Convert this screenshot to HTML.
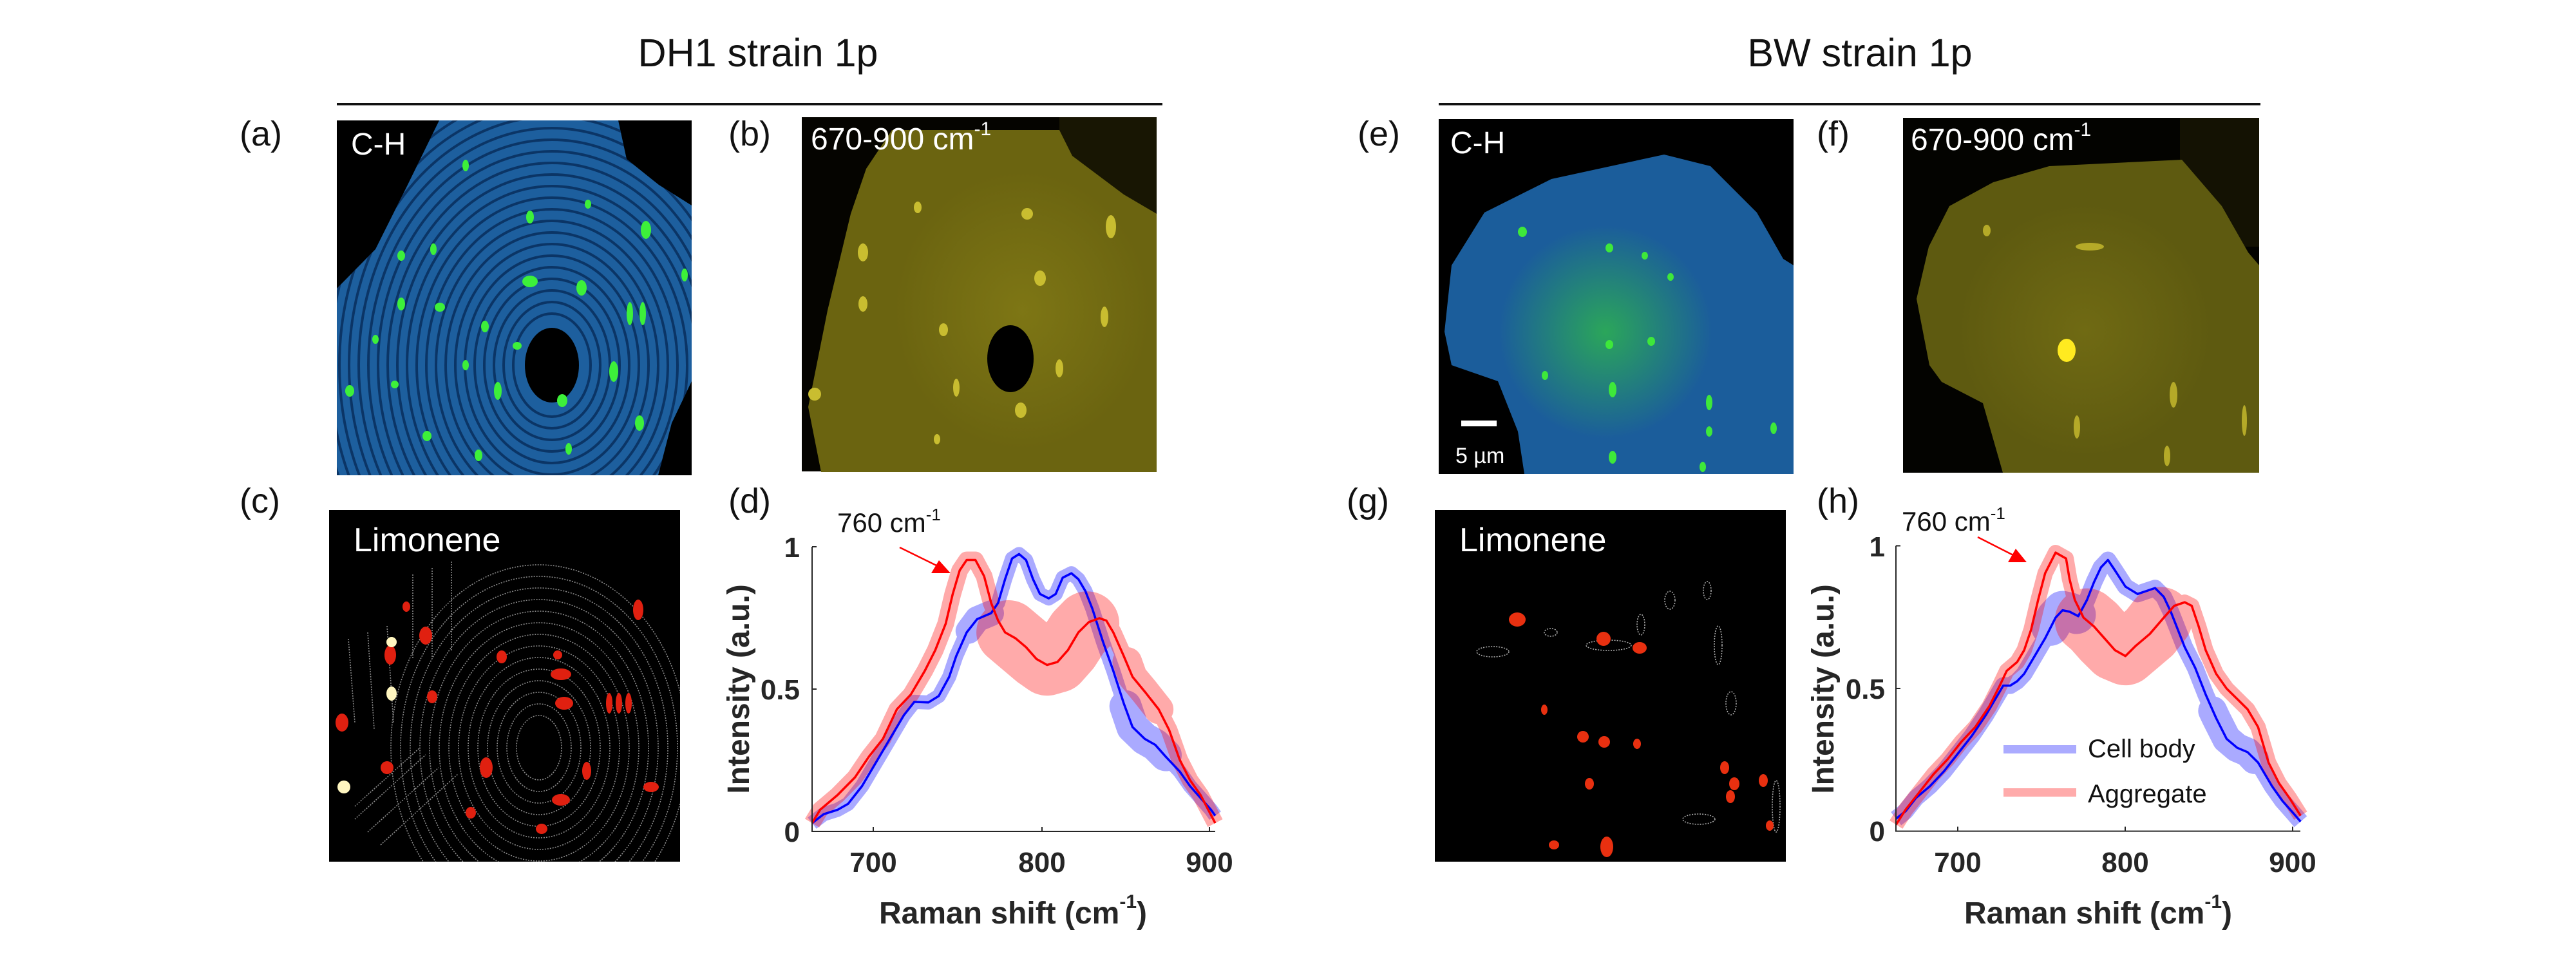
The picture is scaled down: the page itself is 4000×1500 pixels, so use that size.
<!DOCTYPE html>
<html><head><meta charset="utf-8"><style>
html,body{margin:0;padding:0;background:#fff;}
svg{display:block}
text{font-family:"Liberation Sans",sans-serif;}
</style></head><body>
<svg width="4000" height="1500" viewBox="0 0 4000 1500" xmlns="http://www.w3.org/2000/svg">
<defs>
<clipPath id="ca"><polygon points="0,261 60,200 110,100 159,0 437,0 450,60 500,100 551,132 551,405 520,470 499,551 0,551"/></clipPath>
<clipPath id="ce"><polygon points="350,55 422,73 494,145 535,217 551,227 551,551 133,551 123,485 92,407 20,382 9,330 20,227 71,145 175,93"/></clipPath>
<clipPath id="cc"><rect width="545" height="546"/></clipPath>
<radialGradient id="ge" cx="0.47" cy="0.6" r="0.3"><stop offset="0" stop-color="#2fb84a" stop-opacity="0.8"/><stop offset="1" stop-color="#2fb84a" stop-opacity="0"/></radialGradient>
<radialGradient id="gb" cx="0.55" cy="0.5" r="0.45"><stop offset="0" stop-color="#8a8218"/><stop offset="1" stop-color="#8a8218" stop-opacity="0"/></radialGradient>
</defs>

<!-- Titles -->
<text x="1177" y="103" font-size="61" text-anchor="middle" fill="#111">DH1 strain 1p</text>
<text x="2888" y="103" font-size="61" text-anchor="middle" fill="#111">BW strain 1p</text>
<rect x="523" y="160" width="1282" height="3.5" fill="#111"/>
<rect x="2234" y="160" width="1276" height="3.5" fill="#111"/>

<!-- panel labels -->
<g font-size="54" fill="#111">
<text x="372" y="226">(a)</text><text x="1131" y="226">(b)</text>
<text x="2108" y="226">(e)</text><text x="2821" y="226">(f)</text>
<text x="372" y="796">(c)</text><text x="1131" y="796">(d)</text>
<text x="2091" y="796">(g)</text><text x="2821" y="796">(h)</text>
</g>

<!-- Image a -->
<g transform="translate(523,187)">
<rect width="551" height="551" fill="#000"/>
<g clip-path="url(#ca)">
<rect width="551" height="551" fill="#1d5f9e"/>
<g fill="none" stroke="#0b3566" stroke-width="4">
<ellipse cx="334" cy="380" rx="60" ry="80"/><ellipse cx="334" cy="380" rx="75" ry="98"/><ellipse cx="334" cy="380" rx="90" ry="116"/><ellipse cx="334" cy="380" rx="105" ry="134"/><ellipse cx="334" cy="380" rx="120" ry="152"/><ellipse cx="334" cy="380" rx="135" ry="170"/><ellipse cx="334" cy="380" rx="150" ry="188"/><ellipse cx="334" cy="380" rx="165" ry="206"/><ellipse cx="334" cy="380" rx="180" ry="224"/><ellipse cx="334" cy="380" rx="195" ry="242"/><ellipse cx="334" cy="380" rx="210" ry="260"/><ellipse cx="334" cy="380" rx="225" ry="278"/><ellipse cx="334" cy="380" rx="240" ry="296"/><ellipse cx="334" cy="380" rx="255" ry="314"/><ellipse cx="334" cy="380" rx="270" ry="332"/><ellipse cx="334" cy="380" rx="285" ry="350"/><ellipse cx="334" cy="380" rx="300" ry="368"/><ellipse cx="334" cy="380" rx="315" ry="386"/><ellipse cx="334" cy="380" rx="330" ry="404"/><ellipse cx="334" cy="380" rx="345" ry="422"/><ellipse cx="334" cy="380" rx="360" ry="440"/>
</g>
<ellipse cx="334" cy="380" rx="42" ry="58" fill="#000"/>
<g fill="#3df03a">
<ellipse cx="200" cy="70" rx="5" ry="9"/><ellipse cx="300" cy="150" rx="6" ry="10"/><ellipse cx="480" cy="170" rx="8" ry="14"/><ellipse cx="100" cy="210" rx="6" ry="8"/><ellipse cx="150" cy="200" rx="5" ry="9"/><ellipse cx="300" cy="250" rx="12" ry="9"/><ellipse cx="380" cy="260" rx="8" ry="12"/><ellipse cx="160" cy="290" rx="8" ry="7"/><ellipse cx="100" cy="285" rx="6" ry="10"/><ellipse cx="455" cy="300" rx="5" ry="18"/><ellipse cx="475" cy="300" rx="5" ry="18"/><ellipse cx="230" cy="320" rx="6" ry="9"/><ellipse cx="280" cy="350" rx="7" ry="6"/><ellipse cx="430" cy="390" rx="7" ry="16"/><ellipse cx="250" cy="420" rx="6" ry="14"/><ellipse cx="350" cy="435" rx="8" ry="10"/><ellipse cx="20" cy="420" rx="7" ry="9"/><ellipse cx="90" cy="410" rx="6" ry="6"/><ellipse cx="140" cy="490" rx="7" ry="8"/><ellipse cx="470" cy="470" rx="7" ry="12"/><ellipse cx="220" cy="520" rx="6" ry="9"/><ellipse cx="360" cy="510" rx="5" ry="9"/><ellipse cx="540" cy="240" rx="5" ry="10"/><ellipse cx="200" cy="380" rx="5" ry="8"/><ellipse cx="60" cy="340" rx="5" ry="7"/><ellipse cx="390" cy="130" rx="5" ry="7"/>
</g>
</g>
<text x="22" y="53" font-size="48" fill="#fff">C-H</text>
</g>

<!-- Image b -->
<g transform="translate(1245,182)">
<rect width="551" height="550" fill="#050400"/>
<rect x="400" y="0" width="151" height="150" fill="#181603"/>
<polygon points="76,150 100,80 140,20 400,20 420,60 500,120 551,150 551,551 30,551 10,450 40,300" fill="#6b6410"/>
<ellipse cx="320" cy="300" rx="220" ry="240" fill="url(#gb)" opacity="0.6"/>
<ellipse cx="324" cy="375" rx="36" ry="52" fill="#000"/>
<g fill="#c9bd30">
<ellipse cx="95" cy="210" rx="8" ry="14"/><ellipse cx="180" cy="140" rx="6" ry="9"/><ellipse cx="350" cy="150" rx="9" ry="9"/><ellipse cx="480" cy="170" rx="8" ry="18"/><ellipse cx="95" cy="290" rx="7" ry="12"/><ellipse cx="370" cy="250" rx="9" ry="12"/><ellipse cx="470" cy="310" rx="6" ry="16"/><ellipse cx="20" cy="430" rx="10" ry="10"/><ellipse cx="340" cy="455" rx="9" ry="12"/><ellipse cx="240" cy="420" rx="5" ry="14"/><ellipse cx="400" cy="390" rx="6" ry="14"/><ellipse cx="220" cy="330" rx="7" ry="10"/><ellipse cx="210" cy="500" rx="5" ry="8"/>
</g>
<text x="14" y="50" font-size="48" fill="#fff">670-900 cm<tspan font-size="30" dy="-22">-1</tspan></text>
</g>

<!-- Image e -->
<g transform="translate(2234,185)">
<rect width="551" height="551" fill="#000"/>
<g clip-path="url(#ce)">
<rect width="551" height="551" fill="#1b5d9b"/>
<rect width="551" height="551" fill="url(#ge)"/>
<g fill="#3ee83a">
<ellipse cx="130" cy="175" rx="7" ry="8"/><ellipse cx="265" cy="200" rx="6" ry="7"/><ellipse cx="320" cy="212" rx="5" ry="6"/><ellipse cx="360" cy="245" rx="5" ry="6"/><ellipse cx="265" cy="350" rx="6" ry="7"/><ellipse cx="330" cy="345" rx="6" ry="7"/><ellipse cx="165" cy="398" rx="5" ry="7"/><ellipse cx="270" cy="420" rx="6" ry="12"/><ellipse cx="420" cy="440" rx="5" ry="12"/><ellipse cx="420" cy="485" rx="5" ry="8"/><ellipse cx="270" cy="525" rx="6" ry="10"/><ellipse cx="520" cy="480" rx="5" ry="9"/><ellipse cx="410" cy="540" rx="5" ry="8"/>
</g>
</g>
<rect x="35" y="468" width="55" height="9" fill="#fff"/>
<text x="26" y="534" font-size="34" fill="#fff">5 µm</text>
<text x="18" y="53" font-size="48" fill="#fff">C-H</text>
</g>

<!-- Image f -->
<g transform="translate(2955,183)">
<rect width="553" height="551" fill="#030300"/>
<rect x="430" y="0" width="123" height="200" fill="#141203"/>
<polygon points="72,137 140,100 227,75 433,65 495,137 536,209 553,229 553,551 155,551 124,443 60,410 41,384 21,281 40,200" fill="#5e5a10"/>
<ellipse cx="260" cy="330" rx="220" ry="220" fill="url(#gb)" opacity="0.4"/>
<ellipse cx="254" cy="361" rx="14" ry="18" fill="#ffea20"/>
<g fill="#b5aa28">
<ellipse cx="130" cy="175" rx="6" ry="9"/><ellipse cx="290" cy="200" rx="22" ry="6"/><ellipse cx="420" cy="430" rx="6" ry="20"/><ellipse cx="270" cy="480" rx="5" ry="18"/><ellipse cx="410" cy="525" rx="5" ry="16"/><ellipse cx="530" cy="470" rx="4" ry="24"/>
</g>
<text x="12" y="50" font-size="48" fill="#fff">670-900 cm<tspan font-size="30" dy="-22">-1</tspan></text>
</g>

<!-- Image c -->
<g transform="translate(511,792)">
<rect width="545" height="546" fill="#000"/>
<g clip-path="url(#cc)">
<g fill="none" stroke="#8a8a8a" stroke-width="1.6" stroke-dasharray="2,2">
<ellipse cx="326" cy="369" rx="35" ry="50"/><ellipse cx="326" cy="369" rx="50" ry="68"/><ellipse cx="326" cy="369" rx="65" ry="86"/><ellipse cx="326" cy="369" rx="80" ry="104"/><ellipse cx="326" cy="369" rx="95" ry="122"/><ellipse cx="326" cy="369" rx="110" ry="140"/><ellipse cx="326" cy="369" rx="125" ry="158"/><ellipse cx="326" cy="369" rx="140" ry="176"/><ellipse cx="326" cy="369" rx="155" ry="194"/><ellipse cx="326" cy="369" rx="170" ry="212"/><ellipse cx="326" cy="369" rx="185" ry="230"/><ellipse cx="326" cy="369" rx="200" ry="248"/><ellipse cx="326" cy="369" rx="215" ry="266"/><ellipse cx="326" cy="369" rx="230" ry="284"/>
<path d="M40,480 L150,380 M60,500 L170,400 M80,520 L200,410 M40,460 L140,370 M30,200 L40,330 M60,190 L70,340 M90,180 L100,330 M130,100 L130,230 M160,90 L160,230 M190,80 L190,220"/>
</g>
<g fill="#e02010">
<ellipse cx="95" cy="225" rx="9" ry="15"/><ellipse cx="150" cy="195" rx="10" ry="14"/><ellipse cx="160" cy="290" rx="8" ry="10"/><ellipse cx="20" cy="330" rx="10" ry="14"/><ellipse cx="90" cy="400" rx="10" ry="10"/><ellipse cx="244" cy="400" rx="10" ry="16"/><ellipse cx="268" cy="228" rx="8" ry="10"/><ellipse cx="360" cy="255" rx="16" ry="9"/><ellipse cx="365" cy="300" rx="14" ry="10"/><ellipse cx="435" cy="300" rx="5" ry="16"/><ellipse cx="450" cy="300" rx="5" ry="16"/><ellipse cx="465" cy="300" rx="5" ry="16"/><ellipse cx="400" cy="405" rx="7" ry="14"/><ellipse cx="360" cy="450" rx="14" ry="9"/><ellipse cx="330" cy="495" rx="9" ry="8"/><ellipse cx="480" cy="155" rx="8" ry="16"/><ellipse cx="500" cy="430" rx="12" ry="8"/><ellipse cx="220" cy="470" rx="8" ry="9"/><ellipse cx="120" cy="150" rx="6" ry="8"/><ellipse cx="355" cy="225" rx="7" ry="7"/>
</g>
<g fill="#fff6c0">
<ellipse cx="97" cy="205" rx="8" ry="8"/><ellipse cx="97" cy="285" rx="8" ry="11"/><ellipse cx="23" cy="430" rx="10" ry="10"/>
</g>
</g>
<text x="38" y="64" font-size="52" fill="#fff">Limonene</text>
</g>

<!-- Image g -->
<g transform="translate(2228,792)">
<rect width="545" height="546" fill="#000"/>
<g clip-path="url(#cc)">
<g fill="none" stroke="#aaa" stroke-width="1.6" stroke-dasharray="2,2">
<ellipse cx="320" cy="178" rx="6" ry="16"/><ellipse cx="365" cy="140" rx="8" ry="14"/><ellipse cx="423" cy="125" rx="6" ry="14"/><ellipse cx="440" cy="210" rx="6" ry="30"/><ellipse cx="460" cy="300" rx="8" ry="18"/><ellipse cx="180" cy="190" rx="10" ry="6"/><ellipse cx="90" cy="220" rx="25" ry="8"/><ellipse cx="270" cy="210" rx="35" ry="8"/><ellipse cx="410" cy="480" rx="25" ry="8"/><ellipse cx="530" cy="460" rx="6" ry="40"/>
</g>
<g fill="#e83010">
<ellipse cx="128" cy="170" rx="13" ry="11"/><ellipse cx="262" cy="200" rx="11" ry="11"/><ellipse cx="318" cy="214" rx="11" ry="9"/><ellipse cx="230" cy="352" rx="9" ry="9"/><ellipse cx="263" cy="360" rx="9" ry="9"/><ellipse cx="450" cy="400" rx="7" ry="10"/><ellipse cx="465" cy="425" rx="8" ry="10"/><ellipse cx="459" cy="445" rx="7" ry="10"/><ellipse cx="510" cy="420" rx="7" ry="10"/><ellipse cx="267" cy="523" rx="10" ry="16"/><ellipse cx="185" cy="520" rx="8" ry="7"/><ellipse cx="314" cy="363" rx="6" ry="8"/><ellipse cx="170" cy="310" rx="5" ry="8"/><ellipse cx="240" cy="425" rx="7" ry="9"/><ellipse cx="520" cy="490" rx="6" ry="8"/>
</g>
</g>
<text x="38" y="64" font-size="52" fill="#fff">Limonene</text>
</g>

<!-- Plot d -->
<g>
<g transform="translate(1100,780) scale(0.542,0.4591)" fill="none" stroke-linejoin="round">
<g opacity="0.33" stroke="#0000ff">
<polyline vector-effect="non-scaling-stroke" stroke-width="22" points="297,1085 330,1055 370,1040 400,1020 440,960 480,880 520,800 560,720 590,675 630,677 660,655 690,590 710,520 740,440 770,395 810,375 830,340 850,260 870,190 890,175 910,195 930,260 950,310 975,325 995,310 1015,255 1040,240 1060,260 1080,300 1100,360 1130,470 1160,570 1190,680 1215,760 1250,800 1280,820 1310,860 1350,910 1380,960 1410,1000 1440,1040 1452,1060"/>
<polyline vector-effect="non-scaling-stroke" stroke-width="40" stroke-linecap="round" points="745,435 770,395 810,375"/>
<polyline vector-effect="non-scaling-stroke" stroke-width="50" stroke-linecap="round" points="1195,690 1215,760 1250,800 1280,820 1310,855"/>
</g>
<g opacity="0.33" stroke="#ff0000">
<polyline vector-effect="non-scaling-stroke" stroke-width="26" points="297,1085 320,1040 370,990 420,930 460,860 500,800 540,700 580,650 620,570 650,500 680,410 700,310 720,230 740,195 765,195 790,250 810,340 830,400 850,440 880,460 910,490 940,530 970,550 1000,540 1030,500 1060,440 1090,405 1120,392 1140,400 1160,440 1190,520 1215,590 1250,640 1290,700 1320,770 1350,870 1380,940 1410,990 1452,1085"/>
<polyline vector-effect="non-scaling-stroke" stroke-width="100" stroke-linecap="round" points="860,440 880,460 910,490 940,520 970,545 1000,535 1030,495 1060,440 1085,410"/>
<polyline vector-effect="non-scaling-stroke" stroke-width="46" stroke-linecap="round" points="1200,540 1215,590 1250,640 1290,700"/>
</g>
<polyline vector-effect="non-scaling-stroke" stroke="#0000ff" stroke-width="3.5" points="297,1085 330,1055 370,1040 400,1020 440,960 480,880 520,800 560,720 590,675 630,677 660,655 690,590 710,520 740,440 770,395 810,375 830,340 850,260 870,190 890,175 910,195 930,260 950,310 975,325 995,310 1015,255 1040,240 1060,260 1080,300 1100,360 1130,470 1160,570 1190,680 1215,760 1250,800 1280,820 1310,860 1350,910 1380,960 1410,1000 1440,1040 1452,1060"/>
<polyline vector-effect="non-scaling-stroke" stroke="#ff0000" stroke-width="3.5" points="297,1085 320,1040 370,990 420,930 460,860 500,800 540,700 580,650 620,570 650,500 680,410 700,310 720,230 740,195 765,195 790,250 810,340 830,400 850,440 880,460 910,490 940,530 970,550 1000,540 1030,500 1060,440 1090,405 1120,392 1140,400 1160,440 1190,520 1215,590 1250,640 1290,700 1320,770 1350,870 1380,940 1410,990 1452,1085"/>
</g>
<g stroke="#262626" stroke-width="2" fill="none">
<path d="M1261,849 V1291 H1887"/>
<path d="M1356,1291 v-7 M1618,1291 v-7 M1878,1291 v-7 M1261,849 h7 M1261,1070 h7"/>
</g>
<g font-size="44" font-weight="bold" fill="#262626">
<text x="1356" y="1354" text-anchor="middle">700</text>
<text x="1618" y="1354" text-anchor="middle">800</text>
<text x="1878" y="1354" text-anchor="middle">900</text>
<text x="1242" y="865" text-anchor="end">1</text>
<text x="1242" y="1086" text-anchor="end">0.5</text>
<text x="1242" y="1307" text-anchor="end">0</text>
</g>
<text transform="translate(1163,1070) rotate(-90)" font-size="48" font-weight="bold" fill="#262626" text-anchor="middle">Intensity (a.u.)</text>
<text x="1573" y="1434" font-size="48" font-weight="bold" fill="#262626" text-anchor="middle">Raman shift (cm<tspan font-size="30" dy="-24">-1</tspan><tspan dy="24">)</tspan></text>
<text x="1300" y="826" font-size="42" fill="#111">760 cm<tspan font-size="26" dy="-18">-1</tspan></text>
<line x1="1397" y1="850" x2="1458" y2="880" stroke="#ff0000" stroke-width="2.5"/>
<polygon points="1476,890 1446,890 1458,870" fill="#ff0000"/>
</g>

<!-- Plot h -->
<g>
<g transform="translate(2780,780) scale(0.542,0.4591)" fill="none" stroke-linejoin="round">
<g opacity="0.33" stroke="#0000ff">
<polyline vector-effect="non-scaling-stroke" stroke-width="26" points="303,1070 330,1045 360,1000 400,960 440,910 480,850 520,790 560,720 590,660 610,620 630,620 650,605 670,580 700,520 730,460 760,390 780,365 800,370 825,385 850,330 870,270 890,220 910,195 930,230 960,285 995,310 1020,300 1045,290 1070,320 1090,370 1110,430 1130,490 1160,560 1190,650 1220,730 1250,800 1280,830 1310,845 1340,880 1380,960 1410,1010 1440,1050 1462,1080"/>
<polyline vector-effect="non-scaling-stroke" stroke-width="60" stroke-linecap="round" points="745,420 760,390 780,365 800,370 820,380"/>
<polyline vector-effect="non-scaling-stroke" stroke-width="45" stroke-linecap="round" points="1210,705 1220,730 1250,800 1280,830 1310,845 1330,870"/>
</g>
<g opacity="0.33" stroke="#ff0000">
<polyline vector-effect="non-scaling-stroke" stroke-width="24" points="303,1090 330,1040 370,980 410,920 450,870 490,810 530,760 570,690 600,620 620,570 650,540 670,500 690,430 710,330 730,240 760,170 790,190 800,260 815,330 840,390 870,420 900,460 930,500 960,520 990,485 1030,445 1070,390 1100,350 1130,338 1150,350 1170,420 1190,500 1220,580 1250,630 1280,665 1310,700 1340,760 1370,880 1400,950 1430,1000 1462,1060"/>
<polyline vector-effect="non-scaling-stroke" stroke-width="100" stroke-linecap="round" points="850,400 870,420 900,460 930,495 960,510 990,480 1030,440 1060,395"/>
</g>
<polyline vector-effect="non-scaling-stroke" stroke="#0000ff" stroke-width="3.5" points="303,1070 330,1045 360,1000 400,960 440,910 480,850 520,790 560,720 590,660 610,620 630,620 650,605 670,580 700,520 730,460 760,390 780,365 800,370 825,385 850,330 870,270 890,220 910,195 930,230 960,285 995,310 1020,300 1045,290 1070,320 1090,370 1110,430 1130,490 1160,560 1190,650 1220,730 1250,800 1280,830 1310,845 1340,880 1380,960 1410,1010 1440,1050 1462,1080"/>
<polyline vector-effect="non-scaling-stroke" stroke="#ff0000" stroke-width="3.5" points="303,1090 330,1040 370,980 410,920 450,870 490,810 530,760 570,690 600,620 620,570 650,540 670,500 690,430 710,330 730,240 760,170 790,190 800,260 815,330 840,390 870,420 900,460 930,500 960,520 990,485 1030,445 1070,390 1100,350 1130,338 1150,350 1170,420 1190,500 1220,580 1250,630 1280,665 1310,700 1340,760 1370,880 1400,950 1430,1000 1462,1060"/>
</g>
<g stroke="#262626" stroke-width="2" fill="none">
<path d="M2944,847.5 V1290.6 H3572"/>
<path d="M3040,1290.6 v-7 M3300,1290.6 v-7 M3560,1290.6 v-7 M2944,847.5 h7 M2944,1069 h7"/>
</g>
<g font-size="44" font-weight="bold" fill="#262626">
<text x="3040" y="1354" text-anchor="middle">700</text>
<text x="3300" y="1354" text-anchor="middle">800</text>
<text x="3560" y="1354" text-anchor="middle">900</text>
<text x="2927" y="864" text-anchor="end">1</text>
<text x="2927" y="1085" text-anchor="end">0.5</text>
<text x="2927" y="1306" text-anchor="end">0</text>
</g>
<text transform="translate(2847,1070) rotate(-90)" font-size="48" font-weight="bold" fill="#262626" text-anchor="middle">Intensity (a.u.)</text>
<text x="3258" y="1434" font-size="48" font-weight="bold" fill="#262626" text-anchor="middle">Raman shift (cm<tspan font-size="30" dy="-24">-1</tspan><tspan dy="24">)</tspan></text>
<text x="2953" y="824" font-size="42" fill="#111">760 cm<tspan font-size="26" dy="-18">-1</tspan></text>
<line x1="3071" y1="834" x2="3130" y2="864" stroke="#ff0000" stroke-width="2.5"/>
<polygon points="3147,873 3118,873 3130,852" fill="#ff0000"/>
<rect x="3111" y="1157" width="113" height="13" fill="#0000ff" opacity="0.33"/>
<rect x="3111" y="1224" width="113" height="13" fill="#ff0000" opacity="0.33"/>
<text x="3242" y="1176" font-size="40" fill="#111">Cell body</text>
<text x="3242" y="1246" font-size="40" fill="#111">Aggregate</text>
</g>
</svg>
</body></html>
